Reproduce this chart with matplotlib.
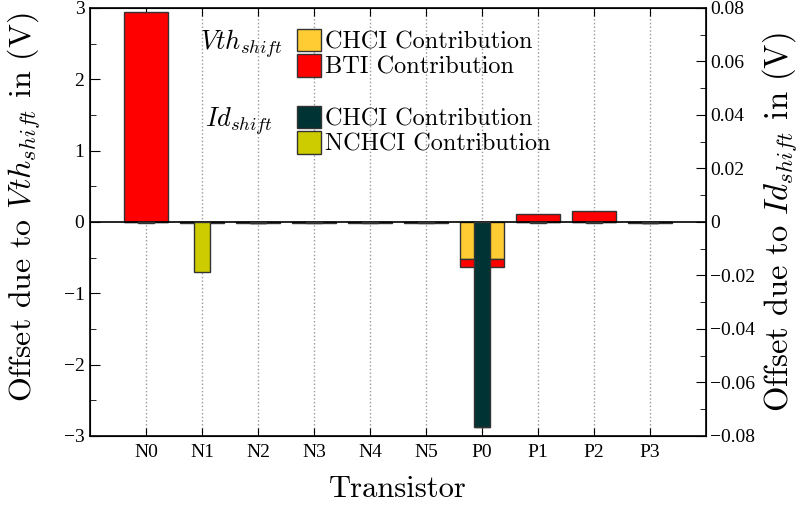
import numpy as np
import matplotlib
matplotlib.use('Agg')
import matplotlib.pyplot as plt
from matplotlib.ticker import MultipleLocator, FuncFormatter
from matplotlib.patches import Patch

plt.rcParams['mathtext.fontset'] = 'cm'
plt.rcParams['font.family'] = 'serif'
plt.rcParams['font.serif'] = ['cmr10', 'Liberation Serif', 'DejaVu Serif']
plt.rcParams['axes.unicode_minus'] = False
plt.rcParams['axes.formatter.use_mathtext'] = False

transistors = ['N0', 'N1', 'N2', 'N3', 'N4', 'N5', 'P0', 'P1', 'P2', 'P3']

# Vth shift parts (left axis, V)
vth_chci = [0.0, 0.0, 0.0, 0.0, 0.0, 0.0, -0.52, 0.0, 0.0, 0.0]
vth_bti = [2.94, -0.01, -0.01, -0.01, -0.01, -0.01, -0.11, 0.11, 0.16, -0.01]

# Id shift parts (right axis)
id_chci = [0.0, 0.0, -0.0004, 0.0, 0.0, 0.0, -0.0768, 0.0, 0.0, -0.0004]
id_nchci = [-0.0003, -0.0187, 0.0, -0.0003, -0.0003, -0.0003, 0.0, -0.0003, -0.0003, 0.0]

c_vchci = '#ffcc33'
c_bti = '#ff0000'
c_ichci = '#003333'
c_nchci = '#cccc00'
edge = '#333333'

x = np.arange(len(transistors))
tick_font = {'family': 'Liberation Serif', 'size': 14}

fig = plt.figure(figsize=(8.02, 5.07), dpi=100)
ax = fig.add_axes([90 / 802, 1 - 436 / 507, 616 / 802, 428 / 507])
ax2 = ax.twinx()

# stacked Vth bars
ax.bar(x, vth_chci, width=0.8, color=c_vchci, edgecolor=edge, linewidth=1, zorder=2)
ax.bar(x, vth_bti, width=0.8, bottom=vth_chci, color=c_bti, edgecolor=edge, linewidth=1, zorder=2)
ax.axhline(0, color='black', linewidth=1.2, zorder=3)

# Id bars on the right axis
ax2.bar(x, id_chci, width=0.3, color=c_ichci, edgecolor=edge, linewidth=1, zorder=2)
ax2.bar(x, id_nchci, width=0.3, bottom=id_chci, color=c_nchci, edgecolor=edge, linewidth=1, zorder=2)

ax.set_xlim(-1, 10)
ax.set_ylim(-3, 3)
ax2.set_ylim(-0.08, 0.08)

ax.set_xticks(x)
ax.set_xticklabels(transistors, fontdict=tick_font)
ax.yaxis.set_major_locator(MultipleLocator(1))
ax.yaxis.set_minor_locator(MultipleLocator(0.5))
ax.yaxis.set_major_formatter(FuncFormatter(lambda v, p: '%d' % v if v >= 0 else '\u2212%d' % -v))
ax2.yaxis.set_major_locator(MultipleLocator(0.02))
ax2.yaxis.set_minor_locator(MultipleLocator(0.01))


def id_fmt(v, p):
    if abs(v) < 1e-9:
        return '0'
    s = '%.2f' % abs(v)
    return s if v > 0 else '\u2212' + s


ax2.yaxis.set_major_formatter(FuncFormatter(id_fmt))
for lab in ax.get_yticklabels() + ax2.get_yticklabels():
    lab.set_fontfamily('Liberation Serif')
    lab.set_fontsize(14)

ax.tick_params(axis='both', which='both', direction='in', top=True)
ax.tick_params(axis='y', which='major', length=7, pad=4)
ax.tick_params(axis='y', which='minor', length=4)
ax.tick_params(axis='x', length=6, pad=6)
ax2.tick_params(axis='y', which='both', direction='in')
ax2.tick_params(axis='y', which='major', length=7, pad=3)
ax2.tick_params(axis='y', which='minor', length=4)

ax.grid(axis='x', linestyle=':', color='#999999', linewidth=1)
ax.set_axisbelow(True)
for s in ax2.spines.values():
    s.set_linewidth(1.2)

ax.set_xlabel('Transistor', fontsize=22, labelpad=10)
ax.set_ylabel('Offset due to $Vth_{shift}$ in (V)', fontsize=23)
ax.yaxis.set_label_coords(-0.076, 0.535)
ax2.set_ylabel('Offset due to $Id_{shift}$ in (V)', fontsize=23.5, labelpad=4)

# grouped legends
h_v = [Patch(facecolor=c_vchci, edgecolor=edge), Patch(facecolor=c_bti, edgecolor=edge)]
h_i = [Patch(facecolor=c_ichci, edgecolor=edge), Patch(facecolor=c_nchci, edgecolor=edge)]
leg_kw = dict(loc='upper left', frameon=False, fontsize=17.5, handlelength=1.0,
              handleheight=1.05, handletextpad=0.15, labelspacing=0.05, borderaxespad=0.8)
leg1 = ax2.legend(h_v, ['CHCI Contribution', 'BTI Contribution'],
                  bbox_to_anchor=(0.289, 1.02), **leg_kw)
ax2.add_artist(leg1)
ax2.legend(h_i, ['CHCI Contribution', 'NCHCI Contribution'],
           bbox_to_anchor=(0.289, 0.84), **leg_kw)
ax2.text(0.178, 0.918, '$Vth_{shift}$', transform=ax2.transAxes, fontsize=19, ha='left', va='center')
ax2.text(0.186, 0.736, '$Id_{shift}$', transform=ax2.transAxes, fontsize=19, ha='left', va='center')

fig.savefig('out.png', dpi=100)
